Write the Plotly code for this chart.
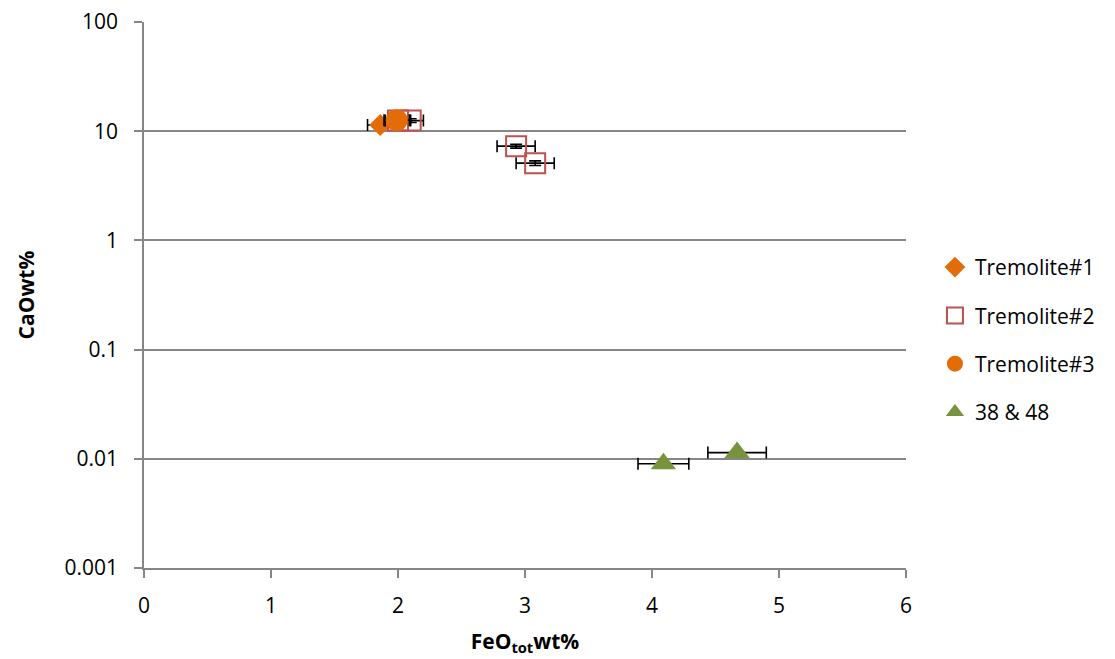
import plotly.graph_objects as go

# Data
trem1_x = [1.86]
trem1_y = [11.4]
trem1_xerr = [0.1]
trem1_yerr = [0.4]

trem2_x = [2.0, 2.1, 2.93, 3.08]
trem2_y = [12.5, 12.5, 7.3, 5.1]
trem2_xerr = [0.1, 0.1, 0.15, 0.15]
trem2_yerr = [0.5, 0.5, 0.3, 0.25]

trem3_x = [1.99]
trem3_y = [12.6]
trem3_xerr = [0.1]
trem3_yerr = [0.5]

s38_x = [4.09, 4.67]
s38_y = [0.009, 0.0114]
s38_xerr = [0.2, 0.23]

y_tickvals = [0.001, 0.01, 0.1, 1, 10, 100]
y_ticktext = ["0.001", "0.01", "0.1", "1", "10", "100"]
x_tickvals = [0, 1, 2, 3, 4, 5, 6]

FONT = "Open Sans, Lato, Liberation Sans, sans-serif"

def ex(arr):
    return dict(type="data", array=arr, color="black", thickness=1.6, width=6, visible=True)

fig = go.Figure()
fig.add_trace(go.Scatter(
    x=trem1_x, y=trem1_y, mode="markers", name="Tremolite#1", legendgroup="a",
    error_x=ex(trem1_xerr), error_y=ex(trem1_yerr),
    marker=dict(symbol="diamond", size=17, color="#E36C09"),
))
fig.add_trace(go.Scatter(
    x=trem2_x, y=trem2_y, mode="markers", name="Tremolite#2", legendgroup="b",
    error_x=ex(trem2_xerr), error_y=ex(trem2_yerr),
    marker=dict(symbol="square-open", size=20, color="#C0504D", line=dict(width=2, color="#C0504D")),
))
fig.add_trace(go.Scatter(
    x=trem3_x, y=trem3_y, mode="markers", name="Tremolite#3", legendgroup="c",
    error_x=ex(trem3_xerr), error_y=ex(trem3_yerr),
    marker=dict(symbol="circle", size=22, color="#E36C09"),
))
fig.add_trace(go.Scatter(
    x=s38_x, y=s38_y, mode="markers", name="38 & 48", legendgroup="d",
    error_x=ex(s38_xerr),
    marker=dict(symbol="triangle-up", size=22, color="#77933C"),
))

fig.update_layout(
    width=1115, height=659,
    paper_bgcolor="white", plot_bgcolor="white",
    margin=dict(l=136, r=217, t=14, b=99),
    font=dict(family=FONT, size=21, color="black"),
    showlegend=True,
    legend=dict(x=1.038, y=0.588, xanchor="left", yanchor="top",
                traceorder="grouped", tracegroupgap=18,
                font=dict(family=FONT, size=21, color="black"), itemwidth=30,
                bgcolor="rgba(0,0,0,0)"),
    xaxis=dict(range=[0, 6], tickvals=x_tickvals, showgrid=False, automargin=False,
               tickfont=dict(family=FONT, size=21, color="black"),
               ticklabelstandoff=10, ticklabeloverflow="allow",
               showline=True, linecolor="#868686", linewidth=1.5,
               ticks="outside", tickcolor="#868686", ticklen=8, tickwidth=1.5,
               zeroline=False,
               title=dict(text="<b>FeO<sub>tot</sub>wt%</b>",
                          font=dict(family=FONT, size=21, color="black"), standoff=16)),
    yaxis=dict(type="log", range=[-3, 2], tickvals=y_tickvals, ticktext=y_ticktext,
               automargin=False,
               tickfont=dict(family=FONT, size=21, color="black"),
               ticklabelstandoff=12, ticklabeloverflow="allow",
               showgrid=True, gridcolor="#868686", gridwidth=1.5,
               showline=True, linecolor="#868686", linewidth=1.5,
               ticks="outside", tickcolor="#868686", ticklen=8, tickwidth=1.5,
               zeroline=False,
               title=dict(text="<b>CaOwt%</b>",
                          font=dict(family=FONT, size=21, color="black"), standoff=24)),
)

fig.write_html("out.html")
